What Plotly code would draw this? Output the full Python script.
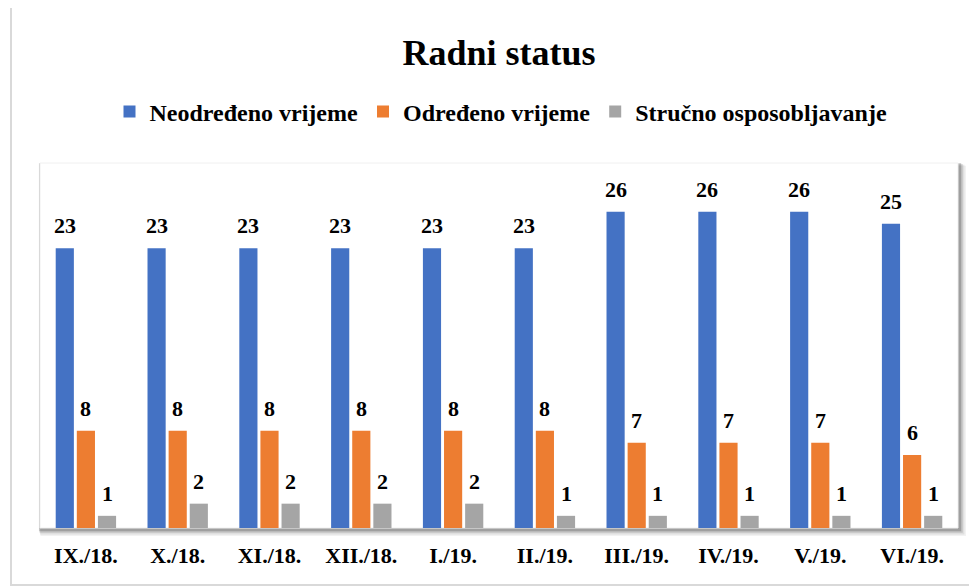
import plotly.graph_objects as go

categories = ["IX./18.", "X./18.", "XI./18.", "XII./18.", "I./19.", "II./19.", "III./19.", "IV./19.", "V./19.", "VI./19."]
neodredeno = [23, 23, 23, 23, 23, 23, 26, 26, 26, 25]
odredeno = [8, 8, 8, 8, 8, 8, 7, 7, 7, 6]
strucno = [1, 2, 2, 2, 2, 1, 1, 1, 1, 1]
series_names = ["Neodređeno vrijeme", "Određeno vrijeme", "Stručno osposobljavanje"]
colors = ["#4472C4", "#ED7D31", "#A5A5A5"]

FONT = "Liberation Serif, Times New Roman, serif"
W, H = 977, 586
OFF = 8  # page body margin
# plot area in page pixels
PL, PR, PT, PB = 40, 958, 163, 528
L = PL - OFF
T = PT - OFF
R = W - (PR - OFF)
B = H - (PB - OFF)
pw, ph = W - L - R, H - T - B

def px_x(p):
    return (p - PL) / pw

def px_y(p):
    return (PB - p) / ph

BARGAP, GROUPGAP = 0.31, 0.14
slot = pw / len(categories) * (1 - BARGAP) / 3

fig = go.Figure()
annotations = []
for i, (name, vals, col) in enumerate(zip(series_names, [neodredeno, odredeno, strucno], colors)):
    fig.add_trace(go.Bar(
        x=categories, y=vals, name="<b>" + name + "</b>",
        marker=dict(color=col, line=dict(width=0)),
    ))
    for c, v in zip(categories, vals):
        annotations.append(dict(
            x=c, y=v, xref="x", yref="y", text="<b>" + str(v) + "</b>", showarrow=False,
            xanchor="center", yanchor="bottom", xshift=(i - 1) * slot, yshift=8,
            font=dict(family=FONT, size=22, color="#000000"),
        ))

shapes = []
# outer chart border
shapes.append(dict(type="rect", xref="paper", yref="paper", x0=px_x(11), x1=px_x(1000), y0=px_y(585), y1=px_y(7),
                   line=dict(color="#D9D9D9", width=2), fillcolor="rgba(0,0,0,0)", layer="below"))
# shadow of plot area
for i, op in enumerate([0.05, 0.08, 0.12, 0.18]):
    off = 8 - i * 1.6
    shapes.append(dict(type="rect", xref="paper", yref="paper",
                       x0=px_x(PL - 2 + off * 0.3), x1=px_x(PR + off),
                       y0=px_y(PB + off), y1=px_y(PT - 2 + off * 0.6),
                       line=dict(width=0), fillcolor=f"rgba(0,0,0,{op})", layer="below"))
shapes.append(dict(type="rect", xref="paper", yref="paper", x0=0, x1=1, y0=0, y1=1,
                   line=dict(color="#F0F0F0", width=1), fillcolor="#FFFFFF", layer="below"))

fig.update_layout(
    width=W, height=H,
    margin=dict(l=L, r=R, t=T, b=B),
    paper_bgcolor="#FFFFFF", plot_bgcolor="rgba(0,0,0,0)",
    barmode="group", bargap=BARGAP, bargroupgap=GROUPGAP,
    title=dict(text="<b>Radni status</b>", x=(499 - OFF) / W, xanchor="center", y=1 - (52 - OFF) / H, yanchor="middle",
               font=dict(family=FONT, size=36, color="#000000")),
    legend=dict(orientation="h", x=px_x(501), xanchor="center", y=px_y(112), yanchor="middle",
                font=dict(family=FONT, size=24, color="#000000"), itemwidth=30,
                traceorder="normal", bgcolor="rgba(0,0,0,0)"),
    showlegend=True,
    shapes=shapes,
    annotations=annotations,
    font=dict(family=FONT, color="#000000"),
)
fig.update_xaxes(showgrid=False, showline=False, ticks="", ticklen=0, ticklabelstandoff=12,
                 tickfont=dict(family=FONT, size=22, color="#000000"),
                 tickprefix="<b>", ticksuffix="</b>")
fig.update_yaxes(range=[0, 30], visible=False, showgrid=False)

fig.write_html("out.html")
